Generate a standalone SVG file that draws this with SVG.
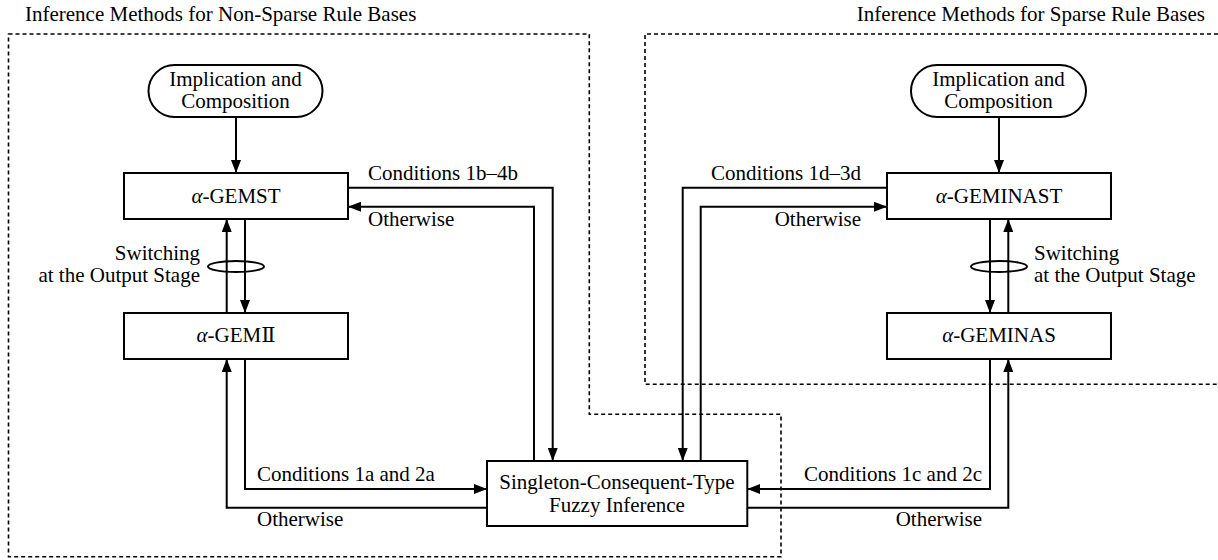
<svg xmlns="http://www.w3.org/2000/svg" width="1218" height="560" viewBox="0 0 1218 560">
<defs>
<marker id="ah" markerWidth="13" markerHeight="10" refX="13" refY="5" orient="auto" markerUnits="userSpaceOnUse">
<path d="M0,0 L13,5 L0,10 z" fill="#000"/>
</marker>
<style>
text{font-family:"Liberation Serif","Times New Roman","DejaVu Serif",serif;font-size:21px;fill:#000}
.box{fill:#fff;stroke:#000;stroke-width:2}
.c{fill:none;stroke:#000;stroke-width:2}
.a{marker-end:url(#ah)}
.dash{fill:none;stroke:#000;stroke-width:1.6;stroke-dasharray:4 3}
.mid{text-anchor:middle}
.end{text-anchor:end}
</style>
</defs>
<rect width="1218" height="560" fill="#fff"/>
<g id="regions">
<path class="dash" d="M8.5,34 H589.3 V414.3 H781 V556.7 H8.5 Z"/>
<path class="dash" d="M1218,34 H645 V384.3 H1218"/>
<text x="25" y="21">Inference Methods for Non-Sparse Rule Bases</text>
<text x="1205" y="21" class="end">Inference Methods for Sparse Rule Bases</text>
</g>
<g id="connectors">
<path class="c a" d="M236,117 V173"/>
<path class="c a" d="M245,219 V313"/>
<path class="c a" d="M226.7,313 V219"/>
<path class="c a" d="M348,187.7 H552.7 V461"/>
<path class="c a" d="M534,461 V206.7 H348"/>
<path class="c a" d="M245,359 V489 H487"/>
<path class="c a" d="M487,507.7 H226.7 V359"/>
<path class="c a" d="M999,117 V173"/>
<path class="c a" d="M990,219 V313"/>
<path class="c a" d="M1008.3,313 V219"/>
<path class="c a" d="M887,187.7 H682.7 V461"/>
<path class="c a" d="M700.7,461 V206.7 H887"/>
<path class="c a" d="M990,359 V489 H747.3"/>
<path class="c a" d="M747.3,507.7 H1008.3 V359"/>
<ellipse class="c" cx="236" cy="266.5" rx="28" ry="5.5" stroke-width="1.6"/>
<ellipse class="c" cx="999" cy="266.5" rx="28" ry="5.5" stroke-width="1.6"/>
<text x="200" y="260" class="end">Switching</text>
<text x="200" y="282" class="end">at the Output Stage</text>
<text x="1034" y="260">Switching</text>
<text x="1034" y="282">at the Output Stage</text>
<text x="368" y="180">Conditions 1b–4b</text>
<text x="368" y="226">Otherwise</text>
<text x="861" y="180" class="end">Conditions 1d–3d</text>
<text x="861" y="226" class="end">Otherwise</text>
<text x="257" y="481">Conditions 1a and 2a</text>
<text x="257" y="526">Otherwise</text>
<text x="982" y="481" class="end">Conditions 1c and 2c</text>
<text x="982" y="526" class="end">Otherwise</text>
</g>
<g id="implication-left">
<rect class="box" x="148.5" y="65" width="174" height="52" rx="26"/>
<text x="235.5" y="86" class="mid">Implication and</text>
<text x="235.5" y="108" class="mid">Composition</text>
</g>
<g id="gemst">
<rect class="box" x="124" y="173" width="224" height="46"/>
<text x="236" y="203" class="mid"><tspan font-style="italic">α</tspan>-GEMST</text>
</g>
<g id="gemii">
<rect class="box" x="124" y="313" width="224" height="46"/>
<text x="236" y="342" class="mid"><tspan font-style="italic">α</tspan>-GEMⅡ</text>
</g>
<g id="singleton">
<rect class="box" x="487" y="461" width="260.3" height="65"/>
<text x="617" y="489" class="mid">Singleton-Consequent-Type</text>
<text x="617" y="512" class="mid">Fuzzy Inference</text>
</g>
<g id="implication-right">
<rect class="box" x="911" y="65" width="175" height="52" rx="26"/>
<text x="998.5" y="86" class="mid">Implication and</text>
<text x="998.5" y="108" class="mid">Composition</text>
</g>
<g id="geminast">
<rect class="box" x="887" y="173" width="224" height="46"/>
<text x="999" y="203" class="mid"><tspan font-style="italic">α</tspan>-GEMINAST</text>
</g>
<g id="geminas">
<rect class="box" x="887" y="313" width="224" height="46"/>
<text x="999" y="342" class="mid"><tspan font-style="italic">α</tspan>-GEMINAS</text>
</g>
</svg>
